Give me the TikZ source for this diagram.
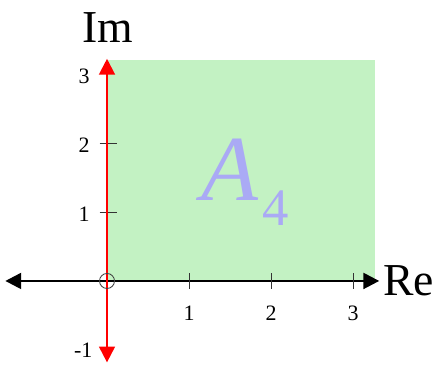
\documentclass[tikz,border=0pt]{standalone}
\usepackage{fontspec}
\setmainfont{Liberation Serif}
\usetikzlibrary{arrows.meta,positioning}
\definecolor{region}{HTML}{C3F2C3}
\definecolor{areatext}{HTML}{AAAAF5}

\begin{document}
\begin{tikzpicture}[x=1.64cm,y=1.38cm,
  axis/.style={draw=black,line width=1.4pt,{Triangle[length=9pt,width=9pt]}-{Triangle[length=9pt,width=9pt]}},
  imaxis/.style={draw=red,line width=1.2pt,{Triangle[length=9pt,width=9pt]}-{Triangle[length=9pt,width=9pt]}},
  tick/.style={draw=black!80,line width=0.5pt},
  ticklbl/.style={font=\fontsize{12.5}{14}\selectfont,inner sep=0pt},
  axislbl/.style={font=\fontsize{26}{30}\selectfont,inner sep=0pt}]
\useasboundingbox (-1.305,-1.319) rectangle (3.988,4.072);
% shaded region
\fill[region] (0,0) rectangle (3.27,3.2);
% axis end points
\coordinate (xl) at (-1.24,0);
\coordinate (xr) at (3.32,0);
\coordinate (yb) at (0,-1.18);
\coordinate (yt) at (0,3.22);
\draw[axis] (xl) -- (xr);
% ticks
\foreach \i in {1,2,3} {
  \draw[tick] (\i,-0.11) -- (\i,0.11);
  \node[ticklbl] (xt\i) at (\i,-0.47) {\i};
}
\foreach \i in {1,2} \draw[tick] (-0.09,\i) -- (0.12,\i);
\foreach \i in {1,2,3} \node[ticklbl] (yt\i) at (-0.28,\i-0.04) {\i};
\node[ticklbl] (ytm) at (-0.29,-1.01) {-1};
\draw[imaxis] (yb) -- (yt);
\node[draw=black!75,circle,line width=0.5pt,minimum size=0.3cm,inner sep=0pt] (orig) at (0,0) {};
% labels
\node[axislbl] (re) at (3.68,0) {Re};
\node[axislbl] (im) at (0.01,3.68) {Im};
\node[anchor=base west,inner sep=0pt,text=areatext,font=\fontsize{53}{60}\selectfont] (area) at (1.15,1.16)
  {\textit{A}\kern2pt\raisebox{-0.5cm}{\fontsize{30}{30}\selectfont 4}};
\end{tikzpicture}
\end{document}
